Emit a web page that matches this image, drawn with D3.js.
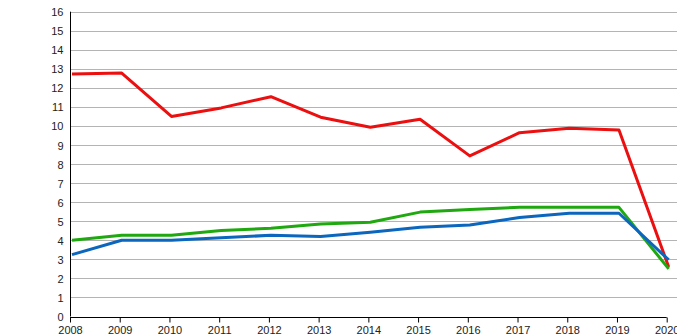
<!DOCTYPE html>
<html>
<head>
<meta charset="utf-8">
<script src="https://cdn.jsdelivr.net/npm/d3@7"></script>
<style>
  html, body { margin: 0; padding: 0; background: #fff; }
  svg { display: block; }
  text { font-family: "Liberation Sans", Arial, sans-serif; font-size: 11px; fill: #222; }
</style>
</head>
<body>
<svg id="chart" width="677" height="336"></svg>
<script>
// Years along the x axis
const years = [2008, 2009, 2010, 2011, 2012, 2013, 2014, 2015, 2016, 2017, 2018, 2019, 2020];
// Series values per year
const redValues   = [12.73, 12.78, 10.5, 10.95, 11.54, 10.46, 9.93, 10.35, 8.43, 9.65, 9.88, 9.79, 2.6];
const greenValues = [4.0, 4.26, 4.26, 4.52, 4.63, 4.85, 4.95, 5.48, 5.62, 5.73, 5.73, 5.73, 2.5];
const blueValues  = [3.25, 4.0, 4.0, 4.14, 4.26, 4.2, 4.42, 4.68, 4.8, 5.2, 5.42, 5.42, 2.97];
// Y tick values
const yTicks = d3.range(0, 17);

const series = [
  { name: "red", values: redValues, color: "#ec0f0f" },
  { name: "green", values: greenValues, color: "#1fa80f" },
  { name: "blue", values: blueValues, color: "#0b66bd" }
];

const svg = d3.select("#chart");
const plotLeft = 70, plotRight = 666.7, plotTop = 11.7, plotBottom = 316.5;

const x = d3.scaleLinear().domain([2008, 2020]).range([plotLeft, plotRight]);
const y = d3.scaleLinear().domain([0, 16]).range([plotBottom, plotTop]);

// Horizontal gridlines
svg.append("g")
  .selectAll("line")
  .data(yTicks.filter(d => d > 0))
  .join("line")
  .attr("x1", plotLeft).attr("x2", 677)
  .attr("y1", d => Math.round(y(d)) + 0.5).attr("y2", d => Math.round(y(d)) + 0.5)
  .attr("stroke", "#b4b4b4").attr("stroke-width", 1);

// Y axis
const yAxis = svg.append("g")
  .attr("transform", `translate(${plotLeft + 0.5},0)`)
  .call(d3.axisLeft(y).tickValues(yTicks).tickSize(0).tickPadding(7).tickFormat(d3.format("d")));
yAxis.select(".domain").attr("stroke", "#000").attr("d", `M0,${plotTop}V${plotBottom}`);
yAxis.selectAll("text").attr("dy", "0.36em");

// X axis
const xAxis = svg.append("g")
  .attr("transform", `translate(0,${Math.round(plotBottom) + 0.5})`)
  .call(d3.axisBottom(x).tickValues(years).tickSize(5).tickPadding(4).tickFormat(d3.format("d")));
xAxis.select(".domain").attr("stroke", "#000").attr("d", `M${plotLeft},0H${plotRight}`);
xAxis.selectAll(".tick line").attr("stroke", "#000");

// Series lines
const line = d3.line()
  .x((d, i) => x(years[i]) + 2)
  .y(d => y(d));

svg.append("g")
  .selectAll("path")
  .data(series)
  .join("path")
  .attr("d", s => line(s.values))
  .attr("fill", "none")
  .attr("stroke", s => s.color)
  .attr("stroke-width", 3)
  .attr("stroke-linejoin", "round");
</script>
</body>
</html>
